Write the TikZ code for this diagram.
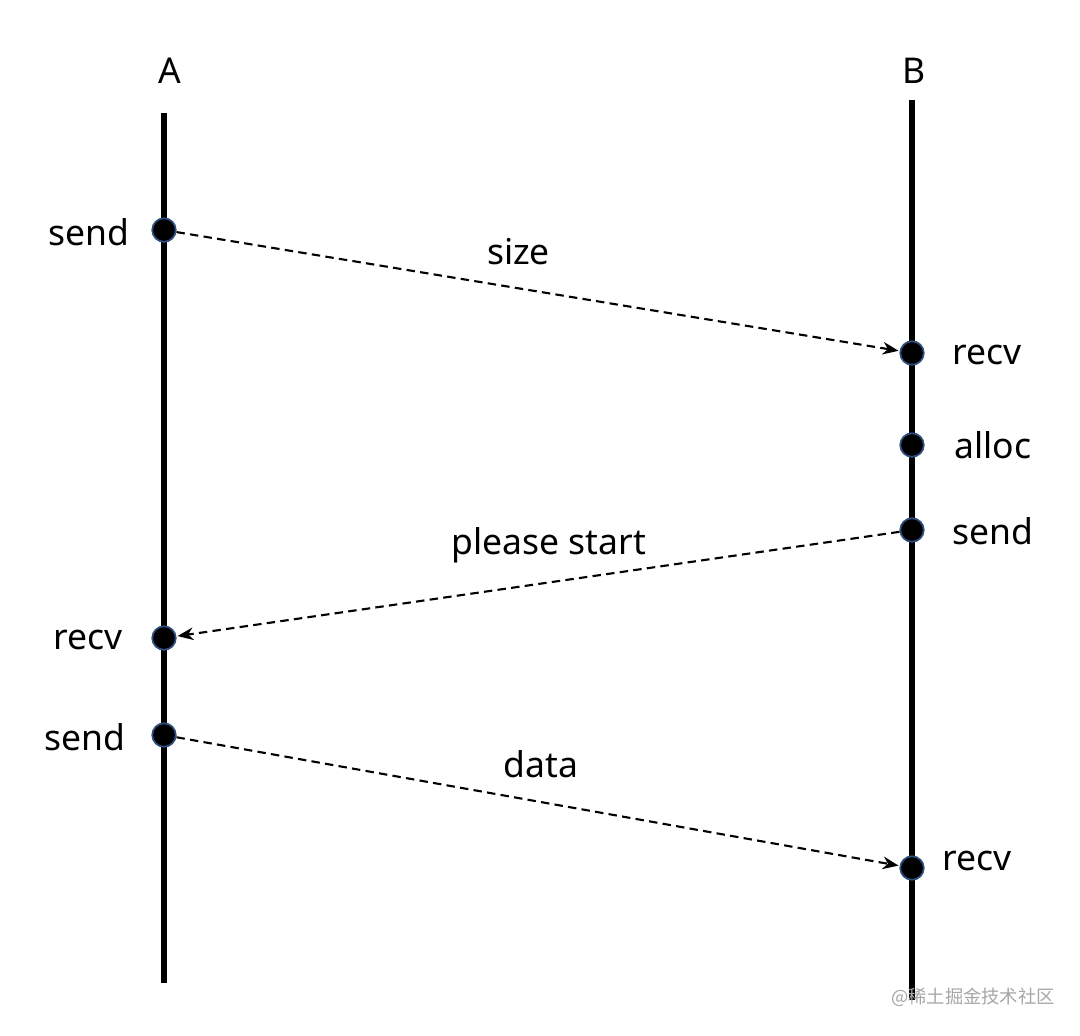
\documentclass[tikz,border=0pt]{standalone}
\usepackage{fontspec}
\setmainfont{Noto Sans}
\newfontfamily\cjk{Noto Sans CJK SC}
\usepackage{tikz}
\usetikzlibrary{positioning,arrows.meta}
\definecolor{dotrim}{HTML}{2F4F80}
\definecolor{markgray}{HTML}{A6A6A6}

\begin{document}
\begin{tikzpicture}[x=0.01cm, y=-0.01cm,
          life/.style={line width=1.45pt, black},
          evt/.style={circle, fill=black, draw=dotrim, line width=0.5pt,
                      minimum size=0.235cm, inner sep=0pt},
          lbl/.style={inner sep=0pt, font=\fontsize{10.1}{12}\selectfont},
          msg/.style={-{Stealth[length=4.5pt, width=3.6pt]}, line width=0.6pt,
                      dash pattern=on 2.4pt off 1.5pt, shorten >=0.3pt}
        ]
        \useasboundingbox (0,0) rectangle (1080,1035);
        %% Lifelines
        \coordinate (atop) at (164,113);
        \coordinate (abot) at (164,983);
        \coordinate (btop) at (912,100);
        \coordinate (bbot) at (912,1000);
        \draw[life] (atop) -- (abot);
        \draw[life] (btop) -- (bbot);
        %% Process names
        \node[lbl] (aname) at (170,71) {A};
        \node[lbl] (bname) at (914,71) {B};
        %% Events on A
        \node[evt] (asend) at (164,230) {};
        \node[evt] (arecv) at (164,638) {};
        \node[evt] (asendb) at (164,735) {};
        %% Events on B
        \node[evt] (brecv) at (912,353) {};
        \node[evt] (balloc) at (912,445) {};
        \node[evt] (bsend) at (912,530) {};
        \node[evt] (brecvb) at (912,868) {};
        %% Event names
        \node[lbl, left=0.21cm of asend, yshift=-0.02cm] (asendlbl) {send};
        \node[lbl, left=0.28cm of arecv, yshift=-0.02cm] (arecvlbl) {recv};
        \node[lbl, left=0.25cm of asendb, yshift=-0.02cm] (asendblbl) {send};
        \node[lbl, right=0.27cm of brecv, yshift=-0.02cm] (brecvlbl) {recv};
        \node[lbl, right=0.29cm of balloc] (balloclbl) {alloc};
        \node[lbl, right=0.27cm of bsend, yshift=-0.01cm] (bsendlbl) {send};
        \node[lbl, right=0.17cm of brecvb, yshift=0.07cm] (brecvblbl) {recv};
        %% Messages
        \draw[msg] (asend) -- (brecv)
              node[lbl, pos=0.473, above=0.22cm] (sizelbl) {size};
        \draw[msg] (bsend) -- (arecv)
              node[lbl, pos=0.485, above=0.18cm] (startlbl) {please start};
        \draw[msg] (asendb) -- (brecvb)
              node[lbl, pos=0.504, above=0.23cm] (datalbl) {data};
        %% Watermark
        \node[font=\cjk\fontsize{5.2}{6}\selectfont, color=markgray,
              inner sep=0pt] (mark) at (973,997) {@稀土掘金技术社区};
      \end{tikzpicture}
\end{document}
